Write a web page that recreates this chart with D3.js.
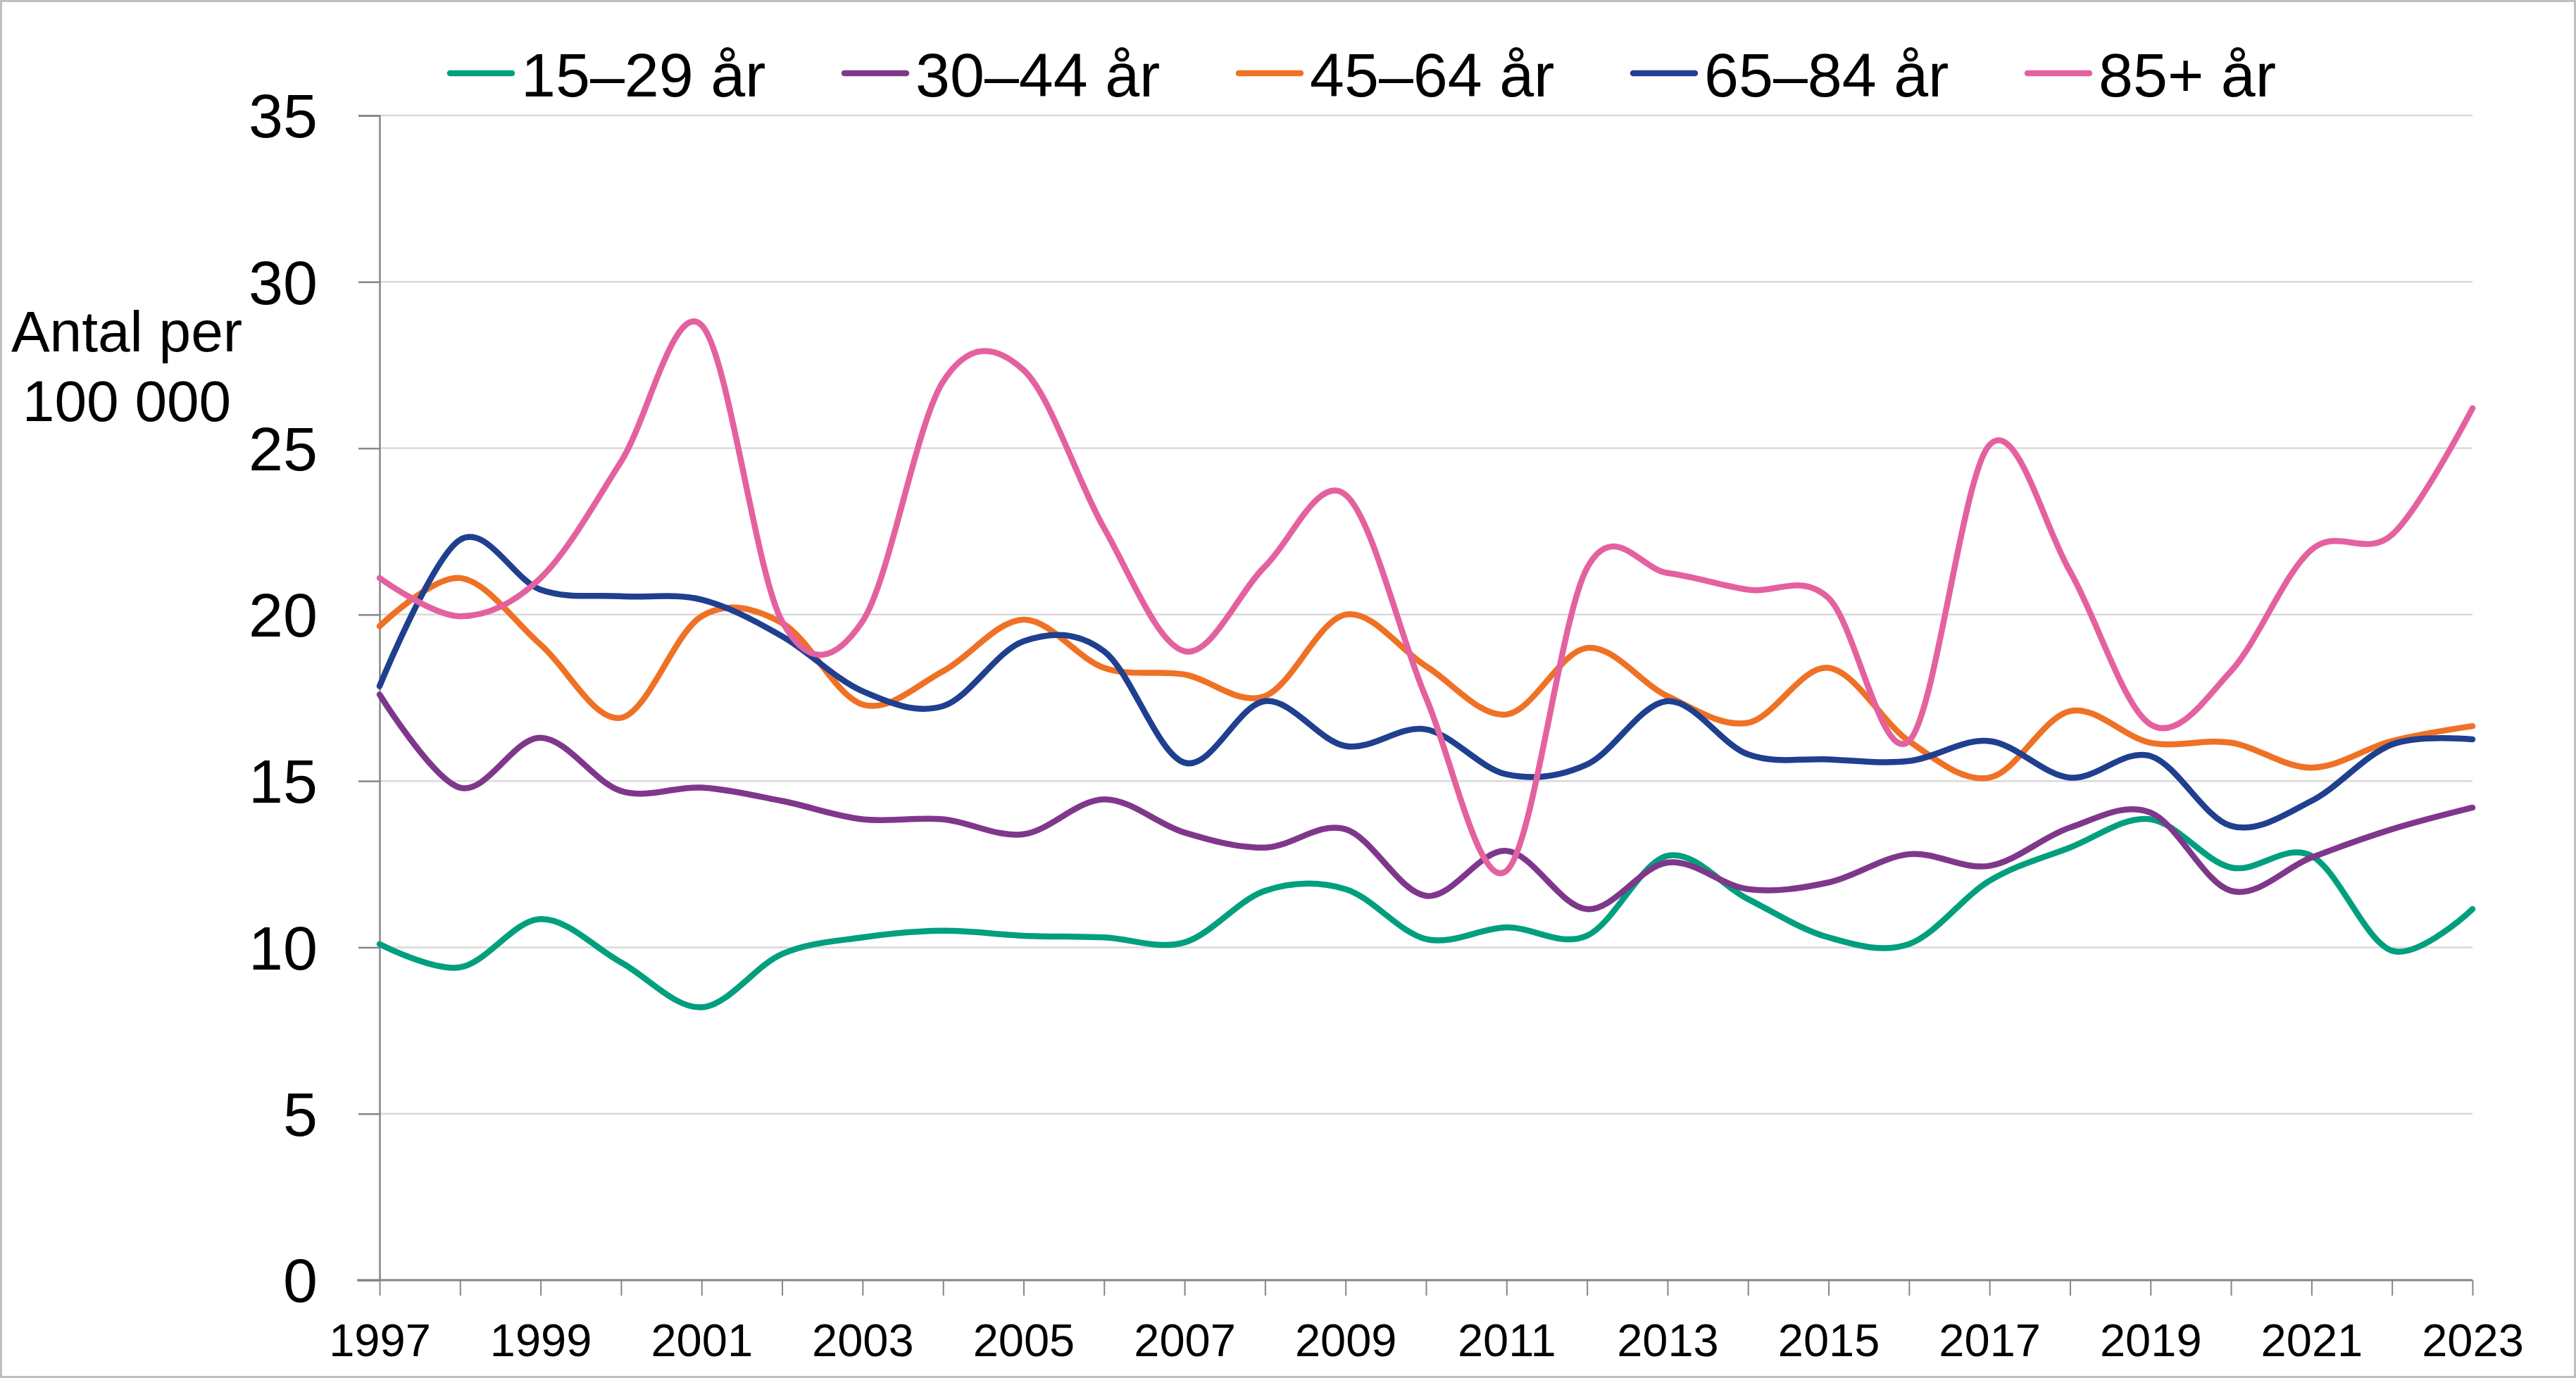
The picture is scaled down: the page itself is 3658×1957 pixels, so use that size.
<!DOCTYPE html>
<html>
<head>
<meta charset="utf-8">
<script src="https://cdn.jsdelivr.net/npm/d3@7/dist/d3.min.js"></script>
<style>
  html, body { margin: 0; padding: 0; background: #fff; }
  svg { display: block; }
  text { font-family: "Liberation Sans", Arial, sans-serif; fill: #000; }
</style>
</head>
<body>
<script>
// ---------- data ----------
const years = d3.range(1997, 2024);
const seriesNames = ["15–29 år", "30–44 år", "45–64 år", "65–84 år", "85+ år"];
const seriesColors = ["#009f7e", "#7f378b", "#ef7125", "#1f3f8f", "#e4619f"];

const age15_29 = [10.1, 9.4, 10.85, 9.55, 8.2, 9.8, 10.3, 10.5, 10.35, 10.3, 10.15, 11.7, 11.75, 10.25, 10.6, 10.35, 12.75, 11.45, 10.3, 10.1, 12.0, 13.0, 13.85, 12.4, 12.75, 9.9, 11.15];
const age30_44 = [17.6, 14.8, 16.3, 14.7, 14.8, 14.4, 13.85, 13.85, 13.4, 14.45, 13.45, 13.0, 13.55, 11.55, 12.9, 11.15, 12.55, 11.75, 11.95, 12.8, 12.45, 13.6, 14.05, 11.7, 12.7, 13.55, 14.2];
const age45_64 = [19.65, 21.1, 19.1, 16.9, 19.95, 19.75, 17.3, 18.3, 19.85, 18.4, 18.2, 17.55, 20.0, 18.45, 17.0, 19.0, 17.55, 16.75, 18.4, 16.2, 15.1, 17.1, 16.15, 16.15, 15.4, 16.2, 16.65];
const age65_84 = [17.85, 22.25, 20.75, 20.55, 20.45, 19.35, 17.7, 17.25, 19.2, 18.9, 15.55, 17.4, 16.05, 16.55, 15.2, 15.5, 17.4, 15.8, 15.65, 15.6, 16.2, 15.1, 15.75, 13.65, 14.4, 16.1, 16.25];
const age85plus = [21.1, 19.95, 21.1, 24.6, 28.7, 19.8, 19.8, 27.0, 27.35, 22.6, 18.9, 21.45, 23.6, 17.5, 12.3, 21.4, 21.25, 20.75, 20.5, 16.2, 25.1, 21.3, 16.7, 18.3, 21.95, 22.4, 26.2];

const yTicks = [0, 5, 10, 15, 20, 25, 30, 35];
const yTitleLines = ["Antal per", "100 000"];

const allSeries = [age15_29, age30_44, age45_64, age65_84, age85plus];

// ---------- layout ----------
const W = 3658, H = 1957;
const plot = { left: 539, right: 3511, top: 164, bottom: 1818 };

const svg = d3.select("body").append("svg")
  .attr("width", W).attr("height", H);

svg.append("rect")
  .attr("x", 1.5).attr("y", 1.5)
  .attr("width", W - 3).attr("height", H - 3)
  .attr("fill", "#fff").attr("stroke", "#bfbfbf").attr("stroke-width", 3);

const x = d3.scaleLinear().domain([1997, 2023]).range([plot.left, plot.right]);
const y = d3.scaleLinear().domain([0, 35]).range([plot.bottom, plot.top]);

// gridlines
svg.append("g")
  .selectAll("line").data(yTicks.filter(t => t > 0)).join("line")
  .attr("x1", plot.left).attr("x2", plot.right)
  .attr("y1", d => y(d)).attr("y2", d => y(d))
  .attr("stroke", "#d9d9d9").attr("stroke-width", 2.5);

// y axis
const yAxis = d3.axisLeft(y).tickValues(yTicks).tickSize(30).tickPadding(58).tickFormat(d3.format("d"));
const gy = svg.append("g").attr("transform", `translate(${plot.left},0)`).call(yAxis);
gy.select(".domain").attr("stroke", "#868686").attr("stroke-width", 2.5);
gy.selectAll(".tick line").attr("stroke", "#868686").attr("stroke-width", 2.5);
gy.selectAll(".tick text")
  .attr("font-size", 88)
  .attr("font-family", "'Liberation Sans', Arial, sans-serif")
  .attr("fill", "#000")
  .attr("dy", "0.35em");

// x axis
const xAxis = d3.axisBottom(x).tickValues(years).tickSize(22).tickPadding(40)
  .tickFormat(d => ((d - 1997) % 2 === 0 ? String(d) : ""));
const gx = svg.append("g").attr("transform", `translate(0,${plot.bottom})`).call(xAxis);
gx.select(".domain").remove();
gx.append("line").attr("x1", plot.left - 32).attr("x2", plot.right)
  .attr("y1", 0).attr("y2", 0).attr("stroke", "#868686").attr("stroke-width", 3);
gx.selectAll(".tick line").attr("stroke", "#868686").attr("stroke-width", 2);
gx.selectAll(".tick text")
  .attr("font-size", 65)
  .attr("font-family", "'Liberation Sans', Arial, sans-serif")
  .attr("fill", "#000");

// y title
svg.append("g").selectAll("text").data(yTitleLines).join("text")
  .attr("x", 180).attr("y", (d, i) => 499 + i * 99)
  .attr("text-anchor", "middle")
  .attr("font-size", 82)
  .text(d => d);

// lines
const line = d3.line()
  .x((d, i) => x(years[i]))
  .y(d => y(d))
  .curve(d3.curveCardinal.tension(0));

svg.append("g").selectAll("path").data(allSeries).join("path")
  .attr("d", d => line(d))
  .attr("fill", "none")
  .attr("stroke", (d, i) => seriesColors[i])
  .attr("stroke-width", 8.5)
  .attr("stroke-linecap", "round")
  .attr("stroke-linejoin", "round");

// legend
const legend = svg.append("g").selectAll("g").data(seriesNames).join("g")
  .attr("transform", (d, i) => `translate(${635 + i * 560},104)`);
legend.append("line")
  .attr("x1", 4).attr("x2", 92).attr("y1", 0).attr("y2", 0)
  .attr("stroke", (d, i) => seriesColors[i])
  .attr("stroke-width", 8.5).attr("stroke-linecap", "round");
legend.append("text")
  .attr("x", 105).attr("y", 33)
  .attr("font-size", 88)
  .text(d => d);
</script>
</body>
</html>
